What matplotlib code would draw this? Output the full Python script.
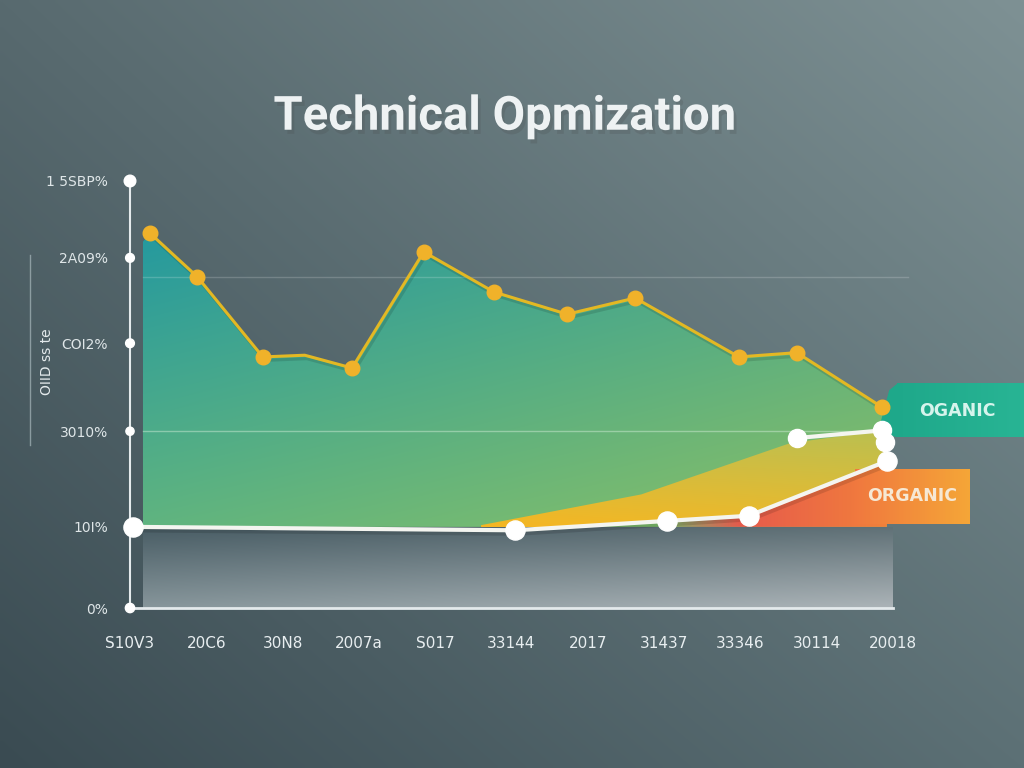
import numpy as np
import matplotlib.pyplot as plt
import matplotlib.patheffects as pe
from matplotlib.patches import Polygon, Rectangle
from matplotlib.lines import Line2D

title = "Technical Opmization"
x_labels = ["S10V3", "20C6", "30N8", "2007a", "S017", "33144",
            "2017", "31437", "33346", "30114", "20018"]
y_ticks = [0, 0.95, 2.07, 3.1, 4.1, 5.0]
y_labels = ["0%", "10I%", "3010%", "COI2%", "2A09%", "1 5SBP%"]
y_title = "OIID ss te"

# yellow series (top line)
yellow_x = [0.26, 0.88, 1.74, 2.29, 2.91, 3.85, 4.77, 5.73, 6.62, 7.98, 8.74, 9.86]
yellow_y = [4.39, 3.88, 2.94, 2.96, 2.81, 4.17, 3.70, 3.44, 3.63, 2.94, 2.99, 2.35]
# white series (bottom line)
white_x = [0.04, 5.05, 7.04, 8.11, 9.92]
white_y = [0.95, 0.91, 1.02, 1.08, 1.72]
# short white series on the right
upper_x = [8.74, 9.86, 9.90]
upper_y = [1.99, 2.08, 1.94]
# yellow band edge
band_x = [4.6, 6.7, 8.65, 9.86]
band_y = [0.97, 1.33, 1.93, 2.08]
base = 0.95

label_top = "OGANIC"
label_bottom = "ORGANIC"


def corner_grad(tl, tr, bl, br, n=200, alpha=None):
    t = np.linspace(0, 1, n)
    u, v = np.meshgrid(t, t)
    c = [np.array(k, dtype=float) / 255 for k in (tl, tr, bl, br)]
    img = (((1 - u) * (1 - v))[..., None] * c[0] + (u * (1 - v))[..., None] * c[1]
           + ((1 - u) * v)[..., None] * c[2] + (u * v)[..., None] * c[3])
    if alpha is not None:
        img = np.dstack([img, alpha(u, v)])
    return img


def grad_fill(ax, verts, img, extent, zorder):
    patch = Polygon(verts, closed=True, facecolor='none', edgecolor='none')
    ax.add_patch(patch)
    im = ax.imshow(img, extent=extent, origin='upper', aspect='auto',
                   interpolation='bilinear', zorder=zorder)
    im.set_clip_path(patch)


def grad_box(ax, x0, x1, y0, y1, c0, c1, n=60, zorder=6):
    xs = np.linspace(x0, x1, n + 1)
    c0, c1 = np.array(c0) / 255, np.array(c1) / 255
    for i in range(n):
        f = i / (n - 1)
        ax.add_patch(Rectangle((xs[i], y0), xs[i + 1] - xs[i] + 0.005, y1 - y0,
                               facecolor=c0 * (1 - f) + c1 * f, edgecolor='none',
                               clip_on=False, zorder=zorder))


fig = plt.figure(figsize=(10.24, 7.68), dpi=100)

# background
bg = fig.add_axes([0, 0, 1, 1])
bg.imshow(corner_grad((88, 106, 111), (126, 145, 148), (58, 75, 82), (92, 112, 117)),
          extent=(0, 1, 0, 1), aspect='auto', interpolation='bilinear')
bg.set_xlim(0, 1)
bg.set_ylim(0, 1)
bg.axis('off')

ax = fig.add_axes([130 / 1024, 160 / 768, 763 / 1024, 427 / 768])
ax.set_facecolor('none')

# gray block under the baseline
grad_fill(ax, [(0.17, 0), (10, 0), (10, base), (0.17, base)],
          corner_grad((72, 92, 100), (95, 112, 118), (135, 150, 155), (172, 180, 184)),
          (0.17, 10, 0, base), 1)

# main teal/green area
area = [(0.17, base), (0.17, yellow_y[0] - 0.1)] + list(zip(yellow_x, yellow_y)) + \
       [(white_x[-1], white_y[-1]), (white_x[-1], base)]
grad_fill(ax, area,
          corner_grad((34, 152, 160), (78, 170, 136), (95, 180, 128), (140, 192, 100)),
          (0, 10, base, 4.5), 2)

# yellow band
band = list(zip(band_x, band_y)) + [(white_x[-1], white_y[-1])] + \
       [(x, y) for x, y in zip(white_x[::-1], white_y[::-1]) if band_x[0] < x < white_x[-1]] + \
       [(band_x[0], base)]
grad_fill(ax, band,
          corner_grad((196, 192, 80), (184, 192, 82), (245, 182, 34), (236, 186, 44)),
          (band_x[0], 10, base, 2.12), 3)

# red / orange wedge under the white line
red = [(x, y) for x, y in zip(white_x, white_y) if x >= 7.0] + \
      [(white_x[-1], base), (7.0, base)]
grad_fill(ax, red,
          corner_grad((225, 70, 85), (242, 130, 58), (225, 70, 85), (242, 130, 58),
                      alpha=lambda u, v: np.clip(u * 3, 0, 1)),
          (7.0, 10, base, 1.8), 3)

# grid lines
ax.plot([0.17, 10.2], [3.88, 3.88], color='white', alpha=0.18, lw=1, zorder=2.5, clip_on=False)
ax.plot([0.17, 10], [2.07, 2.07], color='#d8f0dc', alpha=0.45, lw=1, zorder=2.5)

shadow = [pe.SimpleLineShadow(offset=(1.5, -2.5), alpha=0.12, shadow_color='black'), pe.Normal()]

# yellow line
ax.plot(yellow_x, yellow_y, color='#e3b823', lw=2.2, zorder=7, clip_on=False,
        path_effects=shadow)
marks = [i for i in range(len(yellow_x)) if i != 3]
ax.scatter([yellow_x[i] for i in marks], [yellow_y[i] for i in marks], s=110,
           color='#f0b22a', zorder=8, clip_on=False)

# white lines
ax.plot(white_x, white_y, color='#f4f5f0', lw=3, zorder=7, clip_on=False,
        path_effects=shadow)
ax.scatter(white_x, white_y, s=190, color='white', zorder=8, clip_on=False)
ax.plot(upper_x[:2], upper_y[:2], color='#f4f5f0', lw=3, zorder=7, clip_on=False)
ax.scatter(upper_x, upper_y, s=170, color='white', zorder=8, clip_on=False)

# axes
ax.set_xlim(0, 10)
ax.set_ylim(0, 5)
for s in ('top', 'right'):
    ax.spines[s].set_visible(False)
ax.spines['left'].set_color('#e4eaec')
ax.spines['left'].set_linewidth(1.5)
ax.spines['bottom'].set_color('#e4eaec')
ax.spines['bottom'].set_linewidth(2)
ax.spines['left'].set_zorder(6)
ax.spines['bottom'].set_zorder(6)
ax.set_xticks(range(len(x_labels)), x_labels)
ax.set_yticks(y_ticks, y_labels)
ax.tick_params(axis='x', length=0, pad=20, labelsize=11, labelcolor='#e8eef0')
ax.tick_params(axis='y', length=0, pad=16, labelsize=10, labelcolor='#dfe6e8')
ax.scatter([0] * len(y_ticks), y_ticks, s=[45, 60, 35, 40, 40, 70],
           color='white', zorder=9, clip_on=False)

# tags on the right
grad_box(ax, 10.05, 11.75, 2.0, 2.63, (30, 168, 138), (40, 180, 148))
ax.add_patch(Polygon([(10.06, 2.63), (10.06, 2.0), (9.8, 2.05), (9.95, 2.55)],
                     facecolor=(30 / 255, 168 / 255, 138 / 255), edgecolor='none',
                     clip_on=False, zorder=6))
ax.text(10.85, 2.31, label_top, ha='center', va='center', fontsize=12.5,
        fontweight='bold', color='#d6f4ec', zorder=10, clip_on=False)
grad_box(ax, 9.5, 11.0, 0.98, 1.63, (240, 120, 62), (244, 165, 55))
ax.text(10.25, 1.31, label_bottom, ha='center', va='center', fontsize=12.5,
        fontweight='bold', color='#f6e8d4', zorder=10, clip_on=False)

# title and side label
fig.text(0.493, 0.848, title, ha='center', va='center', fontsize=34,
         fontweight='bold', family='Roboto', color='#eef2f3',
         path_effects=[pe.SimplePatchShadow(offset=(2, -3), alpha=0.2), pe.Normal()])
fig.text(47 / 1024, 1 - 362 / 768, y_title, rotation=90, ha='center', va='center',
         fontsize=10, color='#e4eaec')
fig.add_artist(Line2D([30 / 1024] * 2, [1 - 255 / 768, 1 - 445 / 768],
                      color='#a8b8bc', lw=1, alpha=0.7))

fig.savefig('out.png', dpi=100)
